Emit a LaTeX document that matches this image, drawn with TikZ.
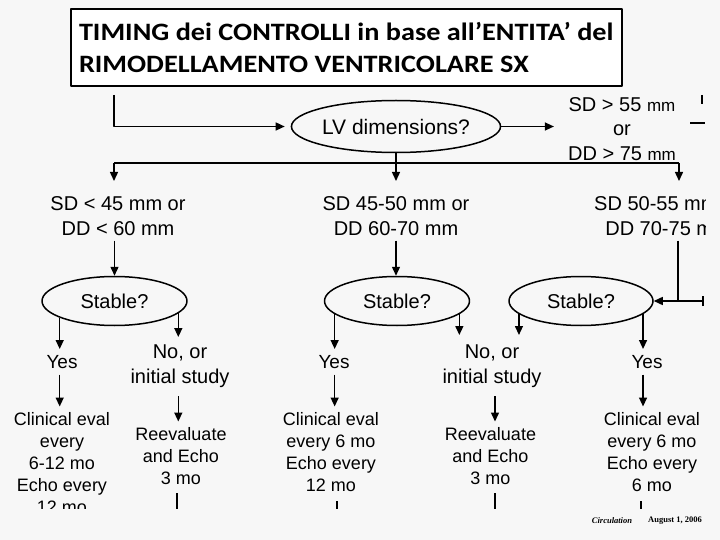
\documentclass[tikz,border=0pt]{standalone}
\usepackage{fontspec}
\setmainfont{Liberation Sans}
\newfontfamily\titlefont[FakeStretch=1.13]{Carlito}
\newfontfamily\capfont{Liberation Serif}
\usetikzlibrary{arrows.meta,shapes.geometric}

\tikzset{
  query/.style={ellipse,draw,line width=1.5pt,minimum width=145pt,minimum height=49pt,inner sep=0pt,font=\fontsize{20}{24}\selectfont},
  cond/.style={align=center,inner sep=0pt,anchor=north,font=\fontsize{20}{25}\selectfont},
  plan/.style={align=center,inner sep=0pt,anchor=north,font=\fontsize{18}{22}\selectfont},
  flow/.style={->,line width=1.4pt,shorten >=6pt},
  wire/.style={line width=1.4pt}
}

\begin{document}
\begin{tikzpicture}[x=1pt,y=-1pt,>={Triangle[length=9pt,width=8pt]},line join=round]
\fill[black!3] (0,0) rectangle (720,540);
\useasboundingbox (0,0) rectangle (720,540);

% title
\node[draw,line width=1.5pt,fill=white,anchor=north west,minimum width=551pt,minimum height=77pt,
  align=left,font=\titlefont\bfseries\fontsize{25}{32}\selectfont]
  (title) at (70,8.5) {TIMING dei CONTROLLI in base all’ENTITA’ del\\RIMODELLAMENTO VENTRICOLARE SX};

\begin{scope}
\clip (0,0) rectangle (705,508);

\coordinate (in) at (114,95);
\node[query,minimum width=170pt,minimum height=52pt,font=\fontsize{21}{24}\selectfont] (lv) at (396,126.5) {LV dimensions?};
\node[cond,font=\fontsize{20}{24.5}\selectfont] (big) at (622,97) {SD > 55 {\fontsize{17}{20}\selectfont mm}\\or\\DD > 75 {\fontsize{17}{20}\selectfont mm}};
\draw[flow] (in) |- (lv.west);
\draw[flow,shorten >=14pt] (lv.east) -- (big.west |- lv.east);
\draw[wire] (702,95) -- (702,104);
\draw[wire] (690,123) -- (705,123);

% split
\coordinate (split) at (396,163);
\coordinate (sl) at (114,163);
\coordinate (sr) at (679,163);
\draw[wire] (lv.south) -- (split);
\draw[wire] (sl) -- (sr);

\node[cond] (cond1) at (118,196) {SD < 45 mm or\\DD < 60 mm};
\node[cond] (cond2) at (396,196) {SD 45-50 mm or\\DD 60-70 mm};
\node[cond,anchor=north west] (cond3) at (594,196) {SD 50-55 mm or\\DD 70-75 mm};

\draw[flow,shorten >=15pt] (sl) -- (sl |- cond1.north);
\draw[flow,shorten >=15pt] (split) -- (split |- cond2.north);
\draw[flow,shorten >=15pt] (sr) -- (sr |- cond3.north);

\node[query] (stab1) at (114.5,301) {Stable?};
\node[query] (stab2) at (397,301) {Stable?};
\node[query,minimum width=144pt] (stab3) at (581,301) {Stable?};

\draw[flow,shorten <=5pt,shorten >=0pt] (cond1.south -| stab1.north) -- (stab1.north);
\draw[flow,shorten <=5pt,shorten >=0pt] (cond2.south -| split) -- (split |- stab2.north);
\coordinate (jn) at (678,301);
\coordinate (rt) at (703,301);
\draw[wire,shorten <=5pt] (cond3.south -| jn) -- (jn);
\draw[flow,shorten >=0pt] (rt) -- (stab3.east);
\draw[wire] ([yshift=-5pt]rt) -- ([yshift=5pt]rt);

% answers
\node[cond,font=\fontsize{19}{24}\selectfont] (yes1) at (62,355) {Yes};
\node[cond] (no1) at (180,345) {No, or\\initial study};
\node[cond,font=\fontsize{19}{24}\selectfont] (yes2) at (334,355) {Yes};
\node[cond] (no2) at (492,345) {No, or\\initial study};
\node[cond,font=\fontsize{19}{24}\selectfont] (yes3) at (647,355) {Yes};

\draw[flow] (stab1.197) -- (stab1.197 |- yes1.north);
\draw[flow,shorten >=8pt] (stab1.-11) -- (stab1.-11 |- no1.north);
\draw[flow] (stab2.192) -- (stab2.192 |- yes2.north);
\draw[flow,shorten >=10pt] (stab2.-12) -- (stab2.-12 |- no2.north);
\draw[flow,shorten >=10pt] (stab3.192) -- (stab3.192 |- no2.north);
\draw[flow] (stab3.-12) -- (stab3.-12 |- yes3.north);

% plans
\node[plan] (eval1) at (62,412.5) {Clinical eval\\every\\6-12 mo\\Echo every\\12 mo};
\node[plan] (reev1) at (181,427.5) {Reevaluate\\and Echo\\3 mo};
\node[plan] (eval2) at (331,412.5) {Clinical eval\\every 6 mo\\Echo every\\12 mo};
\node[plan] (reev2) at (490.5,427.5) {Reevaluate\\and Echo\\3 mo};
\node[plan] (eval3) at (652,412.5) {Clinical eval\\every 6 mo\\Echo every\\6 mo};

\draw[flow,shorten <=6pt] (yes1.south -| stab1.197) -- (stab1.197 |- eval1.north);
\draw[flow,shorten <=8pt] (no1.south -| stab1.-11) -- (stab1.-11 |- reev1.north);
\draw[flow,shorten <=6pt] (yes2.south -| stab2.192) -- (stab2.192 |- eval2.north);
\coordinate (out2) at (495,540);
\draw[flow,shorten <=8pt] (no2.south -| out2) -- (out2 |- reev2.north);
\draw[flow,shorten <=6pt] (yes3.south -| stab3.-12) -- (stab3.-12 |- eval3.north);

\coordinate (out1) at (177,540);
\coordinate (out3) at (337,540);
\coordinate (out4) at (641,540);
\draw[wire,shorten <=8pt] (reev1.south -| out1) -- (out1);
\draw[wire,shorten <=8pt] (reev2.south -| out2) -- (out2);
\draw[wire,shorten <=9pt] (eval2.south -| out3) -- (out3);
\draw[wire,shorten <=9pt] (eval3.south -| out4) -- (out4);
\end{scope}

% source
\node[font=\capfont\bfseries\itshape\fontsize{8.5}{10}\selectfont,inner sep=0pt] (journal) at (612,521) {Circulation};
\node[font=\capfont\bfseries\fontsize{8.5}{10}\selectfont,inner sep=0pt] (date) at (675,521) {August 1, 2006};
\end{tikzpicture}
\end{document}
